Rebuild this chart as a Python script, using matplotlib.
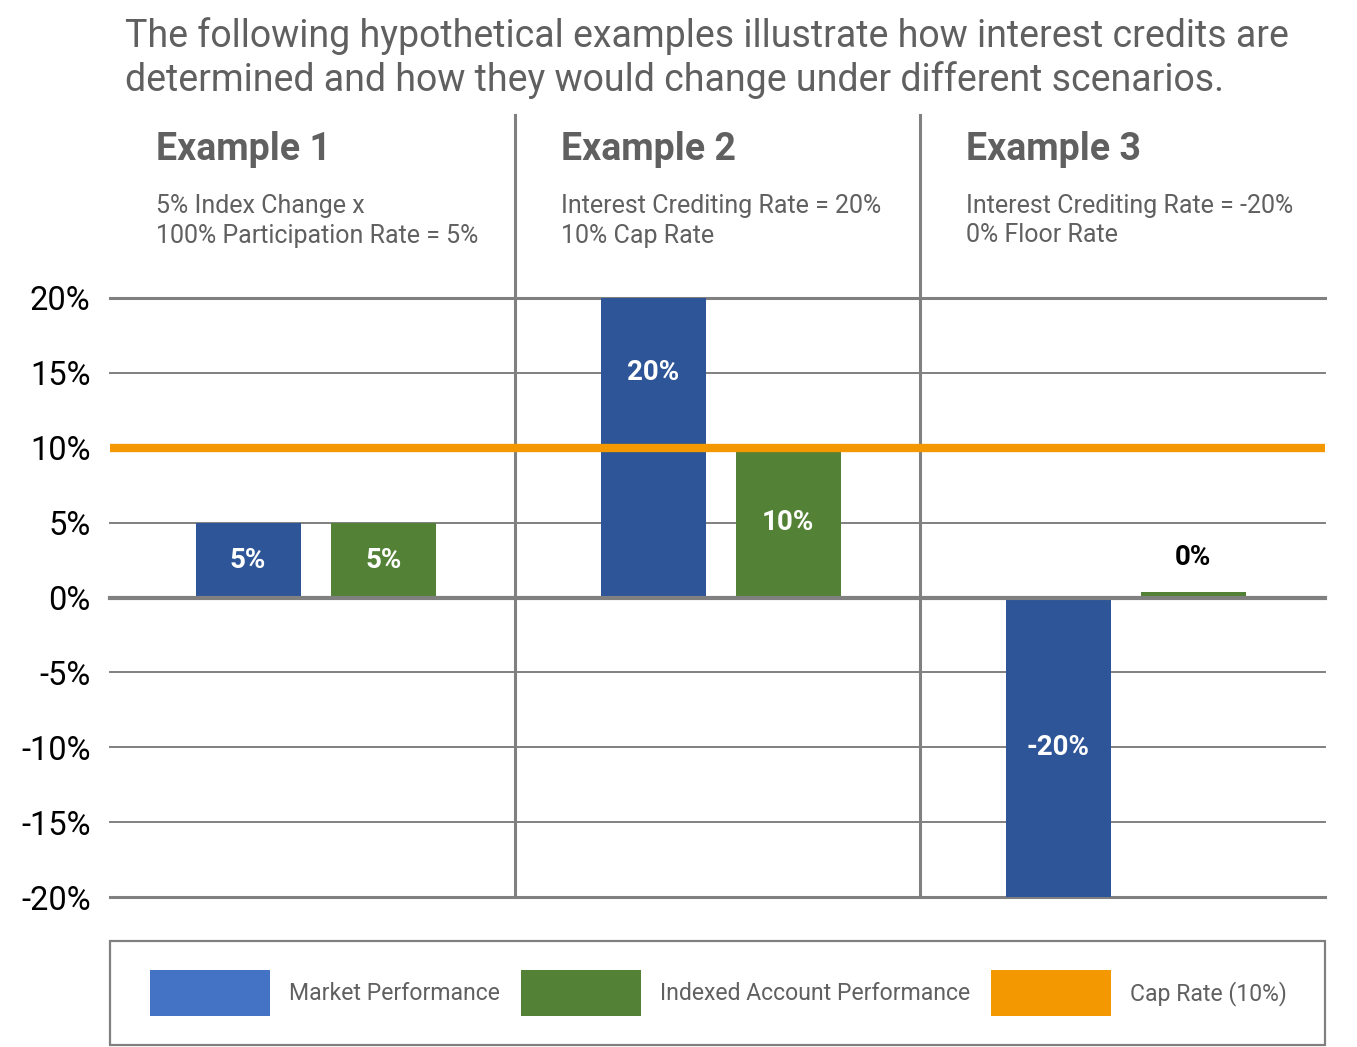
import matplotlib.pyplot as plt
from matplotlib.patches import Patch, Rectangle
import matplotlib.transforms as mtransforms

plt.rcParams['font.family'] = ['Roboto', 'DejaVu Sans']

# data
examples = ['Example 1', 'Example 2', 'Example 3']
notes = [['5% Index Change x', '100% Participation Rate = 5%'],
         ['Interest Crediting Rate = 20%', '10% Cap Rate'],
         ['Interest Crediting Rate = -20%', '0% Floor Rate']]
market = [5, 20, -20]
indexed = [5, 10, 0.4]
market_labels = ['5%', '20%', '-20%']
indexed_labels = ['5%', '10%', '0%']
cap_rate = 10
yticks = [-20, -15, -10, -5, 0, 5, 10, 15, 20]

title = ('The following hypothetical examples illustrate how interest credits are\n'
         'determined and how they would change under different scenarios.')

blue = '#2E5597'
green = '#538135'
orange = '#F39800'
grey = '#808080'
textgrey = '#606060'

fig = plt.figure(figsize=(13.57, 10.47), dpi=100)
ax = fig.add_axes([110/1357, 150/1047, 1215/1357, 599/1047])

x = range(len(examples))
w = 105/405
xb = [i + 0.341 for i in x]
xg = [i + 0.675 for i in x]
ax.bar(xb, market, width=w, color=blue, zorder=3)
ax.bar(xg, indexed, width=w, color=green, zorder=3)

# grid lines
for t in yticks:
    if t == cap_rate:
        continue
    lw = 2.2 if t in (20, -20) else (3.0 if t == 0 else 1.4)
    ax.axhline(t, color=grey, lw=lw, zorder=4 if t == 0 else 1, clip_on=False)
ax.axhline(cap_rate, color=orange, lw=6, zorder=5)

# separators between examples
for s in [1, 2]:
    ax.axvline(s, ymin=0, ymax=(897-115)/599, color=grey, lw=2.2, clip_on=False, zorder=2)

ax.set_xlim(0, 3)
ax.set_ylim(-20, 20)
ax.set_yticks(yticks)
ax.set_yticklabels([f'{t}%' for t in yticks])
ax.tick_params(axis='y', length=0, pad=14, labelsize=23.5, labelcolor='black')
ax.set_xticks([])
for sp in ax.spines.values():
    sp.set_visible(False)

# value labels
def label_y(v):
    mid = v / 2
    if abs(mid - cap_rate) < 2:
        return v * 0.75
    return mid

for xi, v, lab in zip(xb, market, market_labels):
    ax.text(xi, label_y(v), lab, ha='center', va='center', color='white',
            fontsize=20, fontweight='bold', zorder=6)
for xi, v, lab in zip(xg, indexed, indexed_labels):
    if abs(v) < 2:
        ax.text(xi, v + 2.3, lab, ha='center', va='center', color='black',
                fontsize=20, fontweight='bold', zorder=6)
    else:
        ax.text(xi, label_y(v), lab, ha='center', va='center', color='white',
                fontsize=20, fontweight='bold', zorder=6)

# example headers
trans = mtransforms.blended_transform_factory(ax.transData, ax.transAxes)
for i, (name, note) in enumerate(zip(examples, notes)):
    xt = i + 46/405
    ax.text(xt, (897-160)/599, name, transform=trans, ha='left', va='baseline',
            fontsize=27, fontweight='bold', color=textgrey)
    for j, line in enumerate(note):
        ax.text(xt, (897-213-29.5*j)/599, line, transform=trans, ha='left',
                va='baseline', fontsize=18, color=textgrey)

# title
for j, line in enumerate(title.split('\n')):
    fig.text(125/1357, 1 - (47 + 44*j)/1047, line, ha='left', va='baseline',
             fontsize=27, color=textgrey)

# legend
fig.add_artist(Rectangle((110/1357, 2/1047), 1215/1357, 104/1047,
                         transform=fig.transFigure, fill=False,
                         edgecolor=grey, lw=1.6))
handles = [Patch(facecolor='#4472C4', label='Market Performance'),
           Patch(facecolor=green, label='Indexed Account Performance'),
           Patch(facecolor=orange, label='Cap Rate (10%)')]
leg = fig.legend(handles=handles, loc='center left', ncol=3,
                 bbox_to_anchor=(150/1357, 1 - 993/1047),
                 fontsize=16.6, handlelength=5.2, handleheight=2.63,
                 handletextpad=0.83, columnspacing=0.92, borderpad=0,
                 frameon=False, borderaxespad=0)
for t in leg.get_texts():
    t.set_color(textgrey)

fig.savefig('out.png', dpi=100)
